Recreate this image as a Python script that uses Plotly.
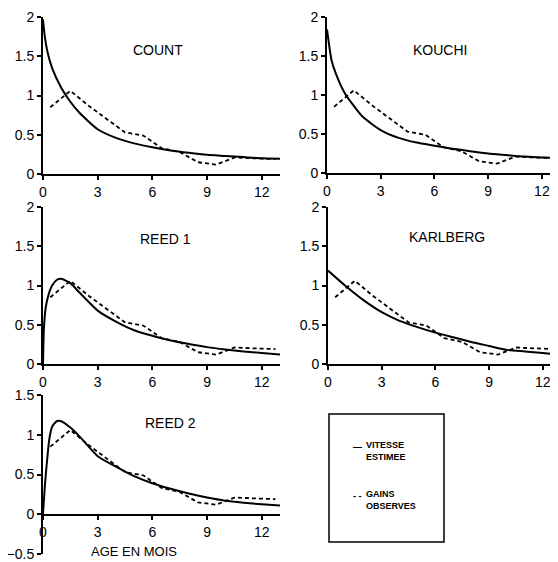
import plotly.graph_objects as go

W, H = 558, 562
OFF = 8  # page body margin offset in the browser

# Observed gains (dashed) - same in all panels
obs_x = [0.4, 1.5, 2.5, 3.5, 4.5, 5.5, 6.5, 7.5, 8.5, 9.5, 10.5, 11.5, 12.75]
obs_y = [0.85, 1.06, 0.87, 0.70, 0.53, 0.49, 0.33, 0.28, 0.15, 0.12, 0.21, 0.20, 0.19]

# Estimated velocity (solid) per model
count_x = [0, 0.1, 0.25, 0.5, 1, 1.5, 2, 3, 4, 5, 6, 7, 8, 9, 10, 11, 12, 13]
count_y = [1.97, 1.75, 1.55, 1.35, 1.1, 0.92, 0.78, 0.57, 0.46, 0.39, 0.34, 0.30, 0.27, 0.245, 0.23, 0.215, 0.2, 0.195]

kouchi_x = [0, 0.25, 0.5, 1, 1.5, 2, 3, 4, 5, 6, 7, 8, 9, 10, 11, 12, 13]
kouchi_y = [1.84, 1.45, 1.27, 1.02, 0.86, 0.72, 0.55, 0.45, 0.39, 0.35, 0.31, 0.28, 0.25, 0.23, 0.21, 0.20, 0.19]

reed1_x = [0, 0.05, 0.15, 0.3, 0.5, 0.75, 1, 1.5, 2, 3, 4, 5, 6, 7, 8, 9, 10, 11, 12, 13]
reed1_y = [0, 0.45, 0.72, 0.88, 1.0, 1.07, 1.085, 1.03, 0.91, 0.68, 0.54, 0.43, 0.36, 0.30, 0.255, 0.215, 0.185, 0.16, 0.14, 0.12]

karl_x = [0, 1, 2, 3, 4, 5, 6, 7, 8, 9, 10, 11, 12, 13]
karl_y = [1.19, 0.99, 0.81, 0.66, 0.55, 0.47, 0.40, 0.34, 0.28, 0.23, 0.18, 0.16, 0.14, 0.12]

reed2_x = [0, 0.1, 0.2, 0.35, 0.5, 0.75, 1, 1.5, 2, 3, 4, 5, 6, 7, 8, 9, 10, 11, 12, 13]
reed2_y = [0, 0.35, 0.62, 0.95, 1.1, 1.17, 1.17, 1.09, 0.98, 0.73, 0.60, 0.48, 0.39, 0.32, 0.26, 0.21, 0.17, 0.145, 0.125, 0.11]

titles = ["COUNT", "KOUCHI", "REED 1", "KARLBERG", "REED 2"]
x_ticks = [0, 3, 6, 9, 12]
y_ticks = [0, 0.5, 1, 1.5, 2]
y_ticks5 = [-0.5, 0, 0.5, 1, 1.5]

FONT = "Liberation Sans, Arial, sans-serif"

# panel pixel boxes (target picture pixels): (left, right, top, bottom)
panels = [
    dict(box=(43, 280, 17, 174), xr=[0, 13.0], yr=[0, 2], sx=count_x, sy=count_y, title=(158, 50)),
    dict(box=(327, 558, 17, 173), xr=[0, 12.9], yr=[0, 2], sx=kouchi_x, sy=kouchi_y, title=(440, 50)),
    dict(box=(43, 280, 207, 364), xr=[0, 13.0], yr=[0, 2], sx=reed1_x, sy=reed1_y, title=(165, 239)),
    dict(box=(328, 558, 207, 364), xr=[0, 12.85], yr=[0, 2], sx=karl_x, sy=karl_y, title=(447, 237)),
    dict(box=(43, 280, 395, 554), xr=[0, 13.0], yr=[-0.5, 1.5], sx=reed2_x, sy=reed2_y, title=(170, 423)),
]


def px(x):
    return (x - OFF) / W


def py(y):
    return 1 - (y - OFF) / H


fig = go.Figure()
annotations = []
for i, p in enumerate(panels):
    n = "" if i == 0 else str(i + 1)
    l, r, t, b = p["box"]
    common = dict(showgrid=False, zeroline=False, showline=True, linecolor="black", linewidth=2,
                  ticks="outside", ticklen=4, tickwidth=2, tickcolor="black",
                  tickfont=dict(family=FONT, size=14, color="black"), automargin=False, fixedrange=True)
    xa = dict(domain=[px(l), min(px(r), 1.0)], range=p["xr"], tickvals=x_ticks, anchor="y" + n, **common)
    ya = dict(domain=[py(b), py(t)], range=p["yr"], tickvals=(y_ticks5 if i == 4 else y_ticks),
              anchor="x" + n, **common)
    if i == 4:
        xa["anchor"] = "free"
        xa["position"] = py(515)
    fig.update_layout({"xaxis" + n: xa, "yaxis" + n: ya})
    fig.add_trace(go.Scatter(x=obs_x, y=obs_y, mode="lines", xaxis="x" + n, yaxis="y" + n,
                             line=dict(color="black", width=1.8, dash="4px,3px"), showlegend=False,
                             hoverinfo="skip"))
    fig.add_trace(go.Scatter(x=p["sx"], y=p["sy"], mode="lines", xaxis="x" + n, yaxis="y" + n,
                             line=dict(color="black", width=2, shape="spline", smoothing=0.6),
                             showlegend=False, hoverinfo="skip"))
    tx, ty = p["title"]
    annotations.append(dict(text=titles[i], x=px(tx), y=py(ty), xref="paper", yref="paper",
                            showarrow=False, xanchor="center", yanchor="middle",
                            font=dict(family=FONT, size=14, color="black")))

annotations.append(dict(text="AGE EN MOIS", x=px(134), y=py(551), xref="paper", yref="paper",
                        showarrow=False, xanchor="center", yanchor="middle",
                        font=dict(family=FONT, size=13, color="black")))

leg_font = dict(family=FONT, size=9, color="black", weight="bold")
for text, x, y in [("—", 351, 447), ("VITESSE<br>ESTIMEE", 364, 451),
                   ("- -", 351, 496), ("GAINS<br>OBSERVES", 364, 500)]:
    annotations.append(dict(text=text, x=px(x), y=py(y), xref="paper", yref="paper", showarrow=False,
                            xanchor="left", yanchor="middle", align="left", font=leg_font))

fig.update_layout(
    width=W, height=H, margin=dict(l=0, r=0, t=0, b=0),
    paper_bgcolor="white", plot_bgcolor="white",
    annotations=annotations,
    shapes=[dict(type="rect", xref="paper", yref="paper", x0=px(329), x1=px(444), y0=py(542), y1=py(414),
                 line=dict(color="black", width=1.5))],
)

fig.write_html("out.html")
